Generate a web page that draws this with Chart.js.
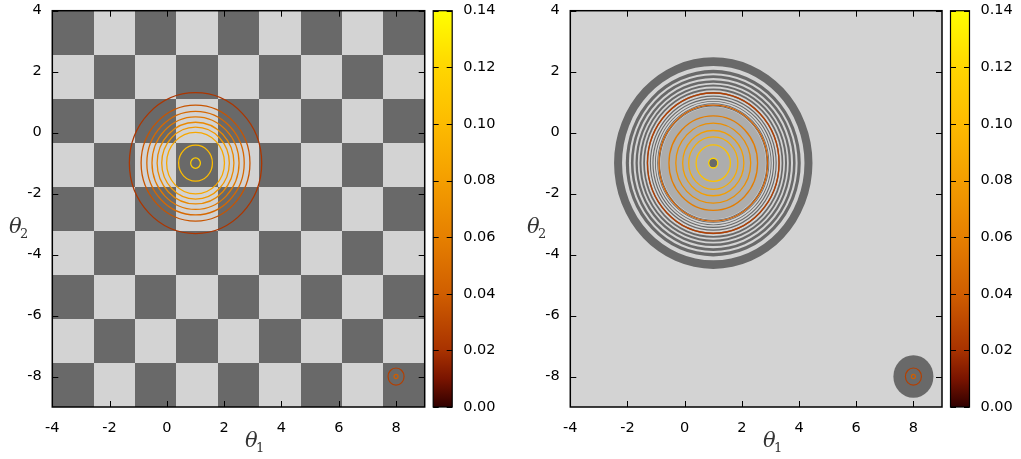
<!DOCTYPE html>
<html><head><meta charset="utf-8">
<script src="https://cdn.jsdelivr.net/npm/chart.js@4"></script>
<style>
html,body{margin:0;padding:0;background:#fff;}
#wrap{position:relative;width:1021px;height:459px;overflow:hidden;}
.pane{position:absolute;top:0;height:459px;}
#p1{left:0;width:518px;}
#p2{left:518px;width:503px;}
</style></head><body>
<div id="wrap">
<div class="pane" id="p1"><canvas id="c1" width="518" height="459"></canvas></div>
<div class="pane" id="p2"><canvas id="c2" width="503" height="459"></canvas></div>
</div>
<script>
// ---------- data ----------
const xTicks = [-4, -2, 0, 2, 4, 6, 8];
const yTicks = [-8, -6, -4, -2, 0, 2, 4];
const cbTicks = [0, 0.02, 0.04, 0.06, 0.08, 0.10, 0.12, 0.14];
const xRange = [-4, 9];
const yRange = [-9, 4];
const cbRange = [0, 0.14];

// checkerboard cell edges (9 x 9 cells), top-left cell is dark
const checkerEdgesX = [-4, -2.556, -1.111, 0.333, 1.778, 3.222, 4.667, 6.111, 7.556, 9];
const checkerEdgesY = [4, 2.556, 1.111, -0.333, -1.778, -3.222, -4.667, -6.111, -7.556, -9];

// contour centres
const mainCenter = [1, -1];
const smallCenter = [8, -8];

// left panel contours (radius, level)
const leftContourRadii  = [2.31, 1.90, 1.70, 1.52, 1.34, 1.18, 1.01, 0.59, 0.17];
const leftContourLevels = [0.022, 0.036, 0.046, 0.056, 0.066, 0.076, 0.086, 0.100, 0.112];
// right panel contours
const rightContourRadii  = [2.30, 1.90, 1.55, 1.31, 1.07, 0.86, 0.60, 0.16];
const rightContourLevels = [0.026, 0.042, 0.058, 0.070, 0.080, 0.090, 0.104, 0.118];
// small source contours
const smallContourRadii  = [0.28, 0.07];
const smallContourLevels = [0.026, 0.040];

// right panel dark rings (inner, outer radius) around mainCenter
const ringInner = [3.19, 2.95, 2.79, 2.64, 2.51, 2.39, 2.28, 2.18, 2.09, 2.01, 1.93, 1.86];
const ringOuter = [3.47, 3.06, 2.88, 2.72, 2.58, 2.45, 2.33, 2.22, 2.13, 2.04, 1.96, 1.89];
const moireRadius = 1.84;
const coreRadius = 0.15;
const smallDiskRadius = 0.70;

// ---------- styles ----------
const DARK = '#696969', LIGHT = '#d3d3d3', MOIRE = '#adadad';
const paletteStops = [
  [0.00, [48, 0, 0]], [0.01, [122, 20, 0]], [0.02, [168, 50, 0]], [0.04, [208, 94, 0]],
  [0.06, [230, 128, 0]], [0.08, [244, 158, 0]], [0.10, [253, 187, 0]], [0.12, [255, 214, 0]],
  [0.14, [255, 255, 0]]
];
function pal(v) {
  for (let i = 1; i < paletteStops.length; i++) {
    const [v1, c1] = paletteStops[i], [v0, c0] = paletteStops[i - 1];
    if (v <= v1) {
      const t = (v - v0) / (v1 - v0);
      return 'rgb(' + c0.map((c, k) => Math.round(c + (c1[k] - c) * t)).join(',') + ')';
    }
  }
  return 'rgb(255,255,0)';
}
const TICK_FONT = {family: 'DejaVu Sans', size: 14.5};

function ell(ctx, xs, ys, c, r) {
  const px = xs.getPixelForValue(c[0]), py = ys.getPixelForValue(c[1]);
  const rx = Math.abs(xs.getPixelForValue(c[0] + r) - px);
  const ry = Math.abs(ys.getPixelForValue(c[1] + r) - py);
  ctx.moveTo(px + rx, py);
  ctx.ellipse(px, py, rx, ry, 0, 0, Math.PI * 2);
}

function drawContours(ctx, xs, ys, center, radii, levels, lw) {
  radii.forEach((r, i) => {
    ctx.beginPath(); ell(ctx, xs, ys, center, r);
    ctx.strokeStyle = pal(levels[i]); ctx.lineWidth = lw; ctx.stroke();
  });
}

function makePlugin(kind) {
  return {
    id: 'panel' + kind,
    beforeDatasetsDraw(chart) {
      const ctx = chart.ctx, a = chart.chartArea, xs = chart.scales.x, ys = chart.scales.y, cb = chart.scales.cb;
      ctx.save();
      ctx.beginPath(); ctx.rect(a.left, a.top, a.right - a.left, a.bottom - a.top); ctx.clip();
      if (kind === 'checker') {
        for (let i = 0; i < checkerEdgesX.length - 1; i++) {
          for (let j = 0; j < checkerEdgesY.length - 1; j++) {
            const x0 = Math.round(xs.getPixelForValue(checkerEdgesX[i]));
            const x1 = Math.round(xs.getPixelForValue(checkerEdgesX[i + 1]));
            const y0 = Math.round(ys.getPixelForValue(checkerEdgesY[j]));
            const y1 = Math.round(ys.getPixelForValue(checkerEdgesY[j + 1]));
            ctx.fillStyle = (i + j) % 2 === 0 ? DARK : LIGHT;
            ctx.fillRect(x0, y0, x1 - x0, y1 - y0);
          }
        }
        drawContours(ctx, xs, ys, mainCenter, leftContourRadii, leftContourLevels, 1.3);
        drawContours(ctx, xs, ys, smallCenter, smallContourRadii, smallContourLevels, 1.2);
      } else {
        ctx.fillStyle = LIGHT;
        ctx.fillRect(a.left, a.top, a.right - a.left, a.bottom - a.top);
        ctx.fillStyle = DARK;
        ringInner.forEach((ri, i) => {
          ctx.beginPath(); ell(ctx, xs, ys, mainCenter, ringOuter[i]); ell(ctx, xs, ys, mainCenter, ri);
          ctx.fill('evenodd');
        });
        ctx.beginPath(); ell(ctx, xs, ys, mainCenter, moireRadius); ctx.fillStyle = MOIRE; ctx.fill();
        ctx.beginPath(); ell(ctx, xs, ys, mainCenter, coreRadius); ctx.fillStyle = DARK; ctx.fill();
        ctx.beginPath(); ell(ctx, xs, ys, smallCenter, smallDiskRadius); ctx.fillStyle = DARK; ctx.fill();
        drawContours(ctx, xs, ys, mainCenter, rightContourRadii, rightContourLevels, 1.3);
        drawContours(ctx, xs, ys, smallCenter, smallContourRadii, smallContourLevels, 1.2);
      }
      ctx.restore();

      // frame + inward ticks
      ctx.save();
      ctx.strokeStyle = '#000'; ctx.lineWidth = 1;
      ctx.beginPath();
      xTicks.forEach(v => {
        const p = Math.round(xs.getPixelForValue(v)) + 0.5;
        ctx.moveTo(p, a.bottom); ctx.lineTo(p, a.bottom - 6);
        ctx.moveTo(p, a.top); ctx.lineTo(p, a.top + 6);
      });
      yTicks.forEach(v => {
        const p = Math.round(ys.getPixelForValue(v)) + 0.5;
        ctx.moveTo(a.left, p); ctx.lineTo(a.left + 6, p);
        ctx.moveTo(a.right, p); ctx.lineTo(a.right - 6, p);
      });
      ctx.stroke();
      ctx.lineWidth = 1.5;
      ctx.strokeRect(a.left, a.top, a.right - a.left, a.bottom - a.top);

      // colour bar
      const bx0 = a.right + 8.5, bx1 = a.right + 27.5;
      const by0 = cb.getPixelForValue(cbRange[1]), by1 = cb.getPixelForValue(cbRange[0]);
      const g = ctx.createLinearGradient(0, by1, 0, by0);
      paletteStops.forEach(([v, c]) => g.addColorStop((v - cbRange[0]) / (cbRange[1] - cbRange[0]), 'rgb(' + c.join(',') + ')'));
      ctx.fillStyle = g;
      ctx.fillRect(bx0, by0, bx1 - bx0, by1 - by0);
      ctx.lineWidth = 1; ctx.strokeStyle = '#000';
      ctx.beginPath();
      cbTicks.forEach(v => {
        const p = Math.round(cb.getPixelForValue(v)) + 0.5;
        ctx.moveTo(bx0, p); ctx.lineTo(bx0 + 5.5, p);
        ctx.moveTo(bx1, p); ctx.lineTo(bx1 - 5.5, p);
      });
      ctx.stroke();
      ctx.lineWidth = 1.2;
      ctx.strokeRect(bx0, by0, bx1 - bx0, by1 - by0);

      // axis titles (theta with subscripts)
      ctx.fillStyle = '#333';
      ctx.textBaseline = 'alphabetic'; ctx.textAlign = 'left';
      ctx.font = 'italic 21px "DejaVu Serif"';
      ctx.fillText('θ', 245, 447);
      ctx.fillText('θ', 9, 233);
      ctx.font = '13px "DejaVu Serif"';
      ctx.fillText('1', 256, 452);
      ctx.fillText('2', 20, 238);
      ctx.restore();
    }
  };
}

function zeroPad(s) { s.paddingTop = 0; s.paddingBottom = 0; s.paddingLeft = 0; s.paddingRight = 0; }

function makeChart(id, kind, cbWidth) {
  return new Chart(document.getElementById(id), {
    type: 'scatter',
    data: {datasets: [{data: [], pointRadius: 0}]},
    plugins: [makePlugin(kind)],
    options: {
      responsive: false, animation: false,
      layout: {padding: {top: 10.7, left: 0, right: 0, bottom: 0}},
      plugins: {legend: {display: false}, tooltip: {enabled: false}},
      scales: {
        x: {
          type: 'linear', position: 'bottom', min: xRange[0], max: xRange[1],
          afterBuildTicks: s => { s.ticks = xTicks.map(v => ({value: v})); },
          afterFit: s => { s.height = 52; zeroPad(s); },
          grid: {display: false}, border: {display: false},
          ticks: {font: TICK_FONT, color: '#000', padding: 4.5, maxRotation: 0}
        },
        y: {
          type: 'linear', position: 'left', min: yRange[0], max: yRange[1],
          afterBuildTicks: s => { s.ticks = yTicks.map(v => ({value: v})); },
          afterFit: s => { s.width = 52.3; zeroPad(s); },
          grid: {display: false}, border: {display: false},
          ticks: {font: TICK_FONT, color: '#000', padding: 2.5}
        },
        cb: {
          type: 'linear', position: 'right', min: cbRange[0], max: cbRange[1],
          afterBuildTicks: s => { s.ticks = cbTicks.map(v => ({value: v})); },
          afterFit: s => { s.width = cbWidth; zeroPad(s); },
          grid: {display: false}, border: {display: false},
          ticks: {font: TICK_FONT, color: '#000', padding: 30.5, callback: v => Number(v).toFixed(2)}
        }
      }
    }
  });
}
makeChart('c1', 'checker', 93.3);
makeChart('c2', 'rings', 79);
</script>
</body></html>
